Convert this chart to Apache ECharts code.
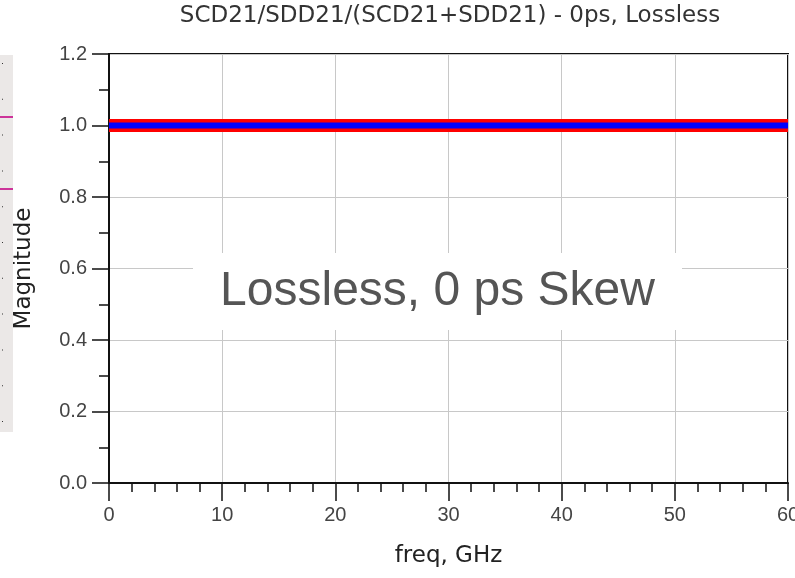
<!DOCTYPE html>
<html>
<head>
<meta charset="utf-8">
<script src="https://cdn.jsdelivr.net/npm/echarts@6/dist/echarts.min.js"></script>
<style>
  html, body { margin: 0; padding: 0; background: #fff; }
  #chart { width: 795px; height: 578px; }
</style>
</head>
<body>
<div id="chart"></div>
<script>
// ====== SCD21/SDD21 ratio, lossless 0ps skew ======
var freqGHz = [0, 10, 20, 30, 40, 50, 60];
var ratioRed = [1.0, 1.0, 1.0, 1.0, 1.0, 1.0, 1.0];
var ratioBlue = [1.0, 1.0, 1.0, 1.0, 1.0, 1.0, 1.0];
var titleText = 'SCD21/SDD21/(SCD21+SDD21) - 0ps, Lossless';
var noteText = 'Lossless, 0 ps Skew';

(function() {
  var font = '"Liberation Sans", Arial, sans-serif';
  var wide = '"DejaVu Sans", sans-serif';
  var chart = echarts.init(document.getElementById('chart'), null, { renderer: 'canvas' });

  function pairs(ys) {
    return freqGHz.map(function(x, i) { return [x, ys[i]]; });
  }

  // leftover strip of a neighbouring panel at the left edge
  var deco = [
    { type: 'rect', shape: { x: 0, y: 55, width: 13, height: 377 }, style: { fill: '#ebe8e7' }, silent: true, z: 1 },
    { type: 'rect', shape: { x: 0, y: 116, width: 13, height: 2 }, style: { fill: '#cc3399' }, silent: true, z: 2 },
    { type: 'rect', shape: { x: 0, y: 188, width: 13, height: 2 }, style: { fill: '#cc3399' }, silent: true, z: 2 }
  ];
  for (var k = 0; k < 11; k++) {
    deco.push({ type: 'rect', shape: { x: 2, y: 63 + k * 35.8, width: 1, height: 1 }, style: { fill: '#333' }, silent: true, z: 2 });
  }

  // annotation box covering the grid
  deco.push({
    type: 'rect', shape: { x: 193, y: 253, width: 489, height: 77 },
    style: { fill: '#ffffff' }, silent: true, z: 20
  });
  deco.push({
    type: 'text', x: 437.5, y: 292, silent: true, z: 21,
    style: {
      text: noteText, fill: '#555', font: '48px ' + font,
      align: 'center', verticalAlign: 'middle'
    }
  });

  chart.setOption({
    animation: false,
    backgroundColor: '#fff',
    title: {
      text: titleText,
      left: 445, top: 0,
      textAlign: 'center',
      textStyle: { fontFamily: wide, fontSize: 23, fontWeight: 'normal', color: '#333' }
    },
    grid: {
      left: 109, right: 7, top: 54, bottom: 95,
      outerBoundsMode: 'none',
      show: true, borderColor: '#111', borderWidth: 2, backgroundColor: 'transparent'
    },
    xAxis: {
      type: 'value', min: 0, max: 60, interval: 10,
      name: 'freq, GHz', nameLocation: 'middle', nameGap: 62,
      nameTextStyle: { fontFamily: wide, fontSize: 23, color: '#222' },
      axisLine: { show: true, onZero: false, lineStyle: { color: '#111', width: 2 } },
      axisTick: { show: true, inside: false, length: 18, lineStyle: { color: '#111', width: 1.5 } },
      minorTick: { show: true, splitNumber: 5, length: 9, lineStyle: { color: '#111', width: 1.5 } },
      axisLabel: { fontFamily: font, fontSize: 20, color: '#444', margin: 22, showMaxLabel: true },
      splitLine: { show: true, lineStyle: { color: '#c8c8c8', width: 1 } }
    },
    yAxis: {
      type: 'value', min: 0, max: 1.2, interval: 0.2,
      name: 'Magnitude', nameLocation: 'middle', nameGap: 73,
      nameTextStyle: { fontFamily: wide, fontSize: 23, color: '#222' },
      axisLine: { show: true, onZero: false, lineStyle: { color: '#111', width: 2 } },
      axisTick: { show: true, inside: false, length: 17, lineStyle: { color: '#111', width: 1.5 } },
      minorTick: { show: true, splitNumber: 2, length: 10, lineStyle: { color: '#111', width: 1.5 } },
      axisLabel: {
        fontFamily: font, fontSize: 20, color: '#444', margin: 22,
        formatter: function(v) { return v.toFixed(1); }
      },
      splitLine: { show: true, lineStyle: { color: '#c8c8c8', width: 1 } }
    },
    graphic: deco,
    series: [
      {
        name: 'red', type: 'line', data: pairs(ratioRed),
        symbol: 'none', z: 3,
        lineStyle: { color: '#ff0000', width: 13, cap: 'butt' }
      },
      {
        name: 'blue', type: 'line', data: pairs(ratioBlue),
        symbol: 'none', z: 4,
        lineStyle: { color: '#0000ff', width: 6, cap: 'butt' }
      }
    ]
  });
})();
</script>
</body>
</html>
